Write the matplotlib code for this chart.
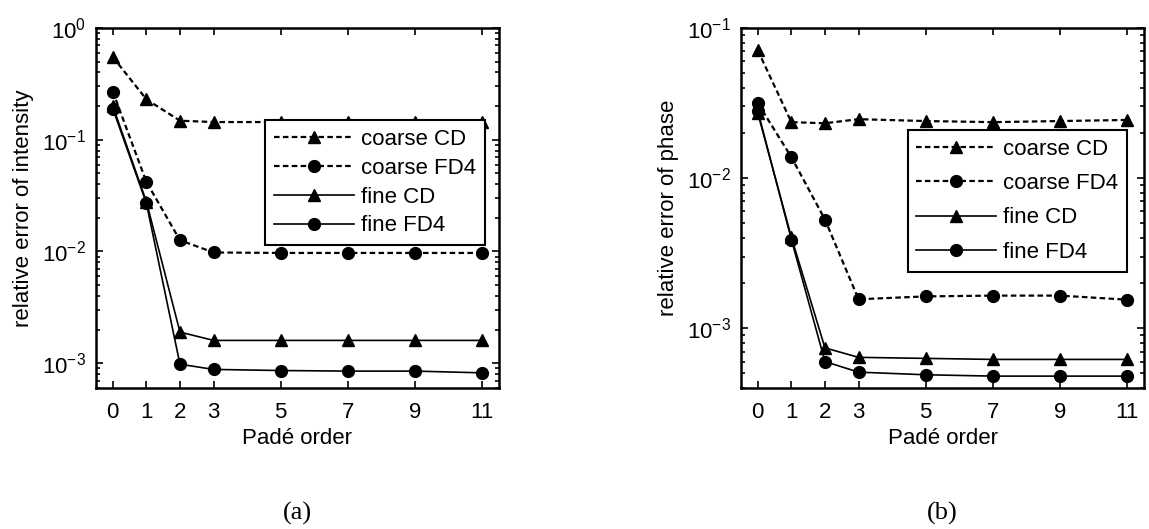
import numpy as np
import matplotlib.pyplot as plt
from matplotlib.ticker import LogLocator, NullFormatter

# =====================================================
# Data
# =====================================================

pade_order = [0, 1, 2, 3, 5, 7, 9, 11]

# (a) relative error of intensity
int_coarse_cd = [0.55, 0.23, 0.148, 0.144, 0.144, 0.144, 0.144, 0.144]
int_coarse_fd4 = [0.27, 0.042, 0.0126, 0.0098, 0.0097, 0.0097, 0.0097, 0.0097]
int_fine_cd = [0.20, 0.028, 0.0019, 0.0016, 0.0016, 0.0016, 0.0016, 0.0016]
int_fine_fd4 = [0.19, 0.027, 0.00098, 0.00088, 0.00086, 0.00085, 0.00085, 0.00082]

# (b) relative error of phase
ph_coarse_cd = [0.071, 0.0236, 0.0232, 0.0247, 0.024, 0.0236, 0.024, 0.0244]
ph_coarse_fd4 = [0.0316, 0.0138, 0.0053, 0.00156, 0.00163, 0.00165, 0.00165, 0.00155]
ph_fine_cd = [0.0271, 0.00404, 0.00074, 0.00064, 0.00063, 0.00062, 0.00062, 0.00062]
ph_fine_fd4 = [0.028, 0.0039, 0.0006, 0.00051, 0.00049, 0.00048, 0.00048, 0.00048]

labels = ['coarse CD', 'coarse FD4', 'fine CD', 'fine FD4']

# =====================================================
# Style
# =====================================================

plt.rcParams['font.family'] = ['Liberation Sans', 'DejaVu Sans']
plt.rcParams['font.size'] = 16
plt.rcParams['axes.linewidth'] = 1.8

W, H = 1149, 529
fig = plt.figure(figsize=(W / 100, H / 100), dpi=100)


def make_axes(x0, x1, y0, y1):
    return fig.add_axes([x0 / W, (H - y1) / H, (x1 - x0) / W, (y1 - y0) / H])


def draw_panel(ax, series, ylim, ylabel, legend_anchor, label_spacing):
    styles = [
        dict(marker='^', ls='--', lw=1.6, dashes=(2.5, 1.5), ms=9),
        dict(marker='o', ls='--', lw=1.6, dashes=(2.5, 1.5), ms=8.5),
        dict(marker='^', ls='-', lw=1.2, ms=9),
        dict(marker='o', ls='-', lw=1.2, ms=8.5),
    ]
    for y, lab, st in zip(series, labels, styles):
        ax.plot(pade_order, y, color='black', mfc='black', mec='black',
                label=lab, **st)

    ax.set_yscale('log')
    ax.set_ylim(*ylim)
    ax.set_xlim(-0.5, 11.5)
    ax.set_xticks(pade_order)
    ax.yaxis.set_major_locator(LogLocator(base=10, numticks=10))
    ax.yaxis.set_minor_locator(LogLocator(base=10, subs=np.arange(2, 10), numticks=20))
    ax.yaxis.set_minor_formatter(NullFormatter())

    ax.tick_params(which='both', direction='in', top=True, right=True, width=1.2)
    ax.tick_params(which='major', length=5)
    ax.tick_params(which='minor', length=3)
    ax.tick_params(axis='x', pad=10)
    ax.tick_params(axis='y', pad=7)

    ax.set_xlabel('Padé order', labelpad=4)
    ax.set_ylabel(ylabel, labelpad=6)

    leg = ax.legend(
        loc='upper right',
        bbox_to_anchor=legend_anchor,
        numpoints=1,
        handlelength=3.6,
        handletextpad=0.3,
        labelspacing=label_spacing,
        borderpad=0.4,
        borderaxespad=0,
        fancybox=False,
        framealpha=1,
        edgecolor='black',
        fontsize=16,
    )
    leg.get_frame().set_linewidth(1.5)


# =====================================================
# Panel (a)
# =====================================================

ax1 = make_axes(96, 499, 28, 388)
draw_panel(ax1, [int_coarse_cd, int_coarse_fd4, int_fine_cd, int_fine_fd4],
           (6e-4, 1.0), 'relative error of intensity', (0.965, 0.744), 0.35)

# =====================================================
# Panel (b)
# =====================================================

ax2 = make_axes(741, 1144, 28, 388)
draw_panel(ax2, [ph_coarse_cd, ph_coarse_fd4, ph_fine_cd, ph_fine_fd4],
           (4e-4, 1e-1), 'relative error of phase', (0.958, 0.717), 0.6)

# =====================================================
# Sub-figure captions
# =====================================================

fig.text(297 / W, 1 - 513 / H, '(a)', ha='center', va='center',
         family='Liberation Serif', fontsize=19)
fig.text(942 / W, 1 - 513 / H, '(b)', ha='center', va='center',
         family='Liberation Serif', fontsize=19)

fig.savefig('out.png', dpi=100)
